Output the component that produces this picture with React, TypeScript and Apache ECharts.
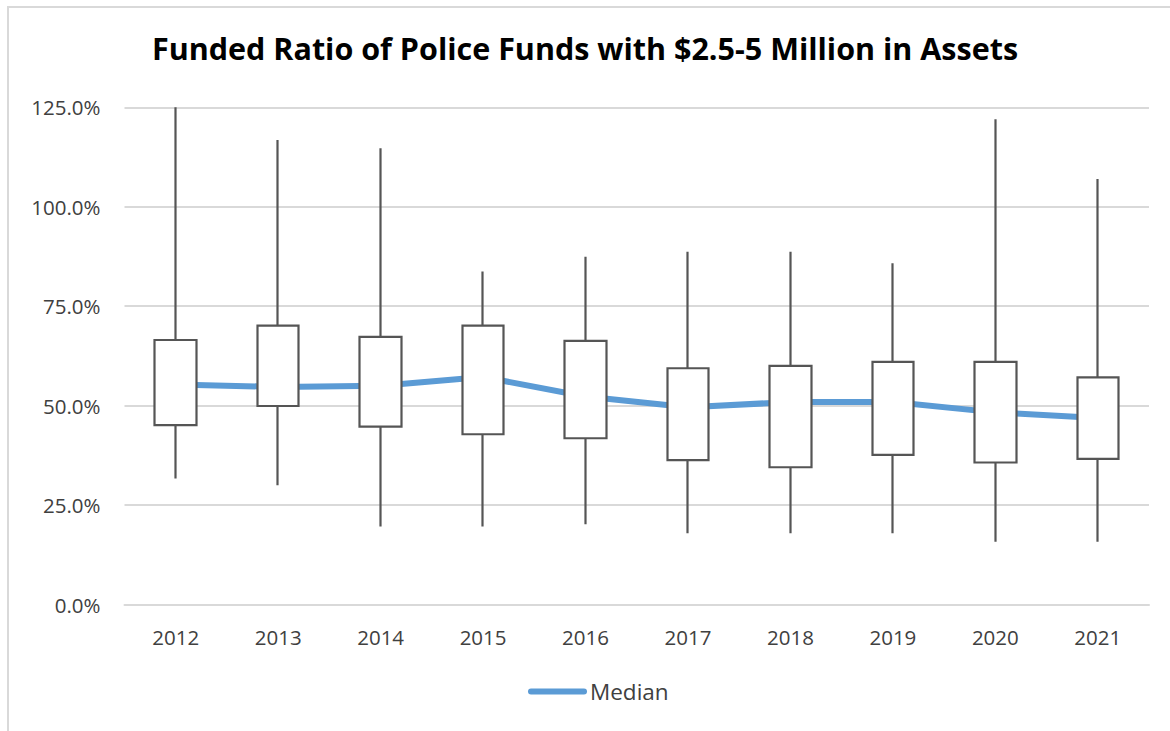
import React, { useEffect, useRef } from "react";
import * as echarts from "echarts";

const years = ["2012", "2013", "2014", "2015", "2016", "2017", "2018", "2019", "2020", "2021"];
const minVals = [31.7, 30.0, 19.6, 19.6, 20.2, 17.9, 17.9, 17.9, 15.8, 15.8];
const q1Vals = [45.1, 49.9, 44.7, 42.8, 41.8, 36.3, 34.5, 37.6, 35.7, 36.6];
const medianVals = [55.3, 54.7, 55.0, 57.2, 52.3, 49.6, 50.9, 50.9, 48.3, 46.9];
const q3Vals = [66.5, 70.1, 67.3, 70.1, 66.3, 59.4, 60.0, 61.0, 61.0, 57.1];
const maxVals = [125.0, 116.8, 114.7, 83.7, 87.4, 88.7, 88.7, 85.8, 122.0, 107.0];
const yTicks = [0, 25, 50, 75, 100, 125];

const FONT = "'Open Sans', 'Noto Sans', sans-serif";

export default function App() {
  const ref = useRef<HTMLDivElement>(null);
  useEffect(() => {
    if (!ref.current) return;
    const chart = echarts.init(ref.current, undefined, { renderer: "svg" });
    const boxData = years.map((_, i) => [q1Vals[i], q3Vals[i], minVals[i], maxVals[i]]);
    chart.setOption({
      animation: false,
      backgroundColor: "#ffffff",
      title: {
        text: "Funded Ratio of Police Funds with $2.5-5 Million in Assets",
        left: "center",
        top: 32,
        padding: 0,
        textStyle: { fontFamily: FONT, fontWeight: "bold", fontSize: 30.5, color: "#000000" },
      },
      graphic: [
        {
          type: "rect",
          shape: { x: 8, y: 7, width: 1180, height: 740 },
          style: { fill: "none", stroke: "#d9d9d9", lineWidth: 2 },
          silent: true,
          z: -1,
        },
      ],
      legend: {
        data: [
          {
            name: "Median",
            icon: "path://M3,0 H56 A3,3 0 0 1 56,6 H3 A3,3 0 0 1 3,0 Z",
          },
        ],
        left: 528,
        top: 680,
        padding: 0,
        itemWidth: 59,
        itemHeight: 6,
        textStyle: { fontFamily: FONT, fontSize: 22.5, color: "#404040", padding: [0, 0, 0, -2] },
      },
      grid: { left: 124.5, right: 21, top: 107.3, bottom: 126.5, containLabel: false },
      xAxis: {
        type: "category",
        data: years,
        boundaryGap: true,
        axisLine: { show: true, lineStyle: { color: "#d9d9d9", width: 2 } },
        axisTick: { show: false },
        axisLabel: { fontFamily: FONT, fontSize: 20.5, color: "#404040", margin: 22 },
      },
      yAxis: {
        type: "value",
        min: yTicks[0],
        max: yTicks[yTicks.length - 1],
        interval: 25,
        axisLine: { show: false },
        axisTick: { show: false },
        splitLine: { lineStyle: { color: "#d9d9d9", width: 2 } },
        axisLabel: {
          fontFamily: FONT,
          fontSize: 20.5,
          color: "#404040",
          margin: 24,
          formatter: (v: number) => v.toFixed(1) + "%",
        },
      },
      series: [
        {
          name: "Median",
          type: "line",
          data: medianVals,
          symbol: "none",
          z: 1,
          lineStyle: { color: "#5b9bd5", width: 6, cap: "round", join: "round" },
          itemStyle: { color: "#5b9bd5" },
        },
        {
          name: "Range",
          type: "candlestick",
          data: boxData,
          barWidth: 42,
          z: 3,
          itemStyle: {
            color: "#ffffff",
            color0: "#ffffff",
            borderColor: "#555555",
            borderColor0: "#555555",
            borderWidth: 2.2,
          },
        },
      ],
    });
    return () => chart.dispose();
  }, []);
  return (
    <div
      ref={ref}
      style={{ position: "fixed", left: 0, top: 0, width: 1170, height: 731 }}
    />
  );
}
